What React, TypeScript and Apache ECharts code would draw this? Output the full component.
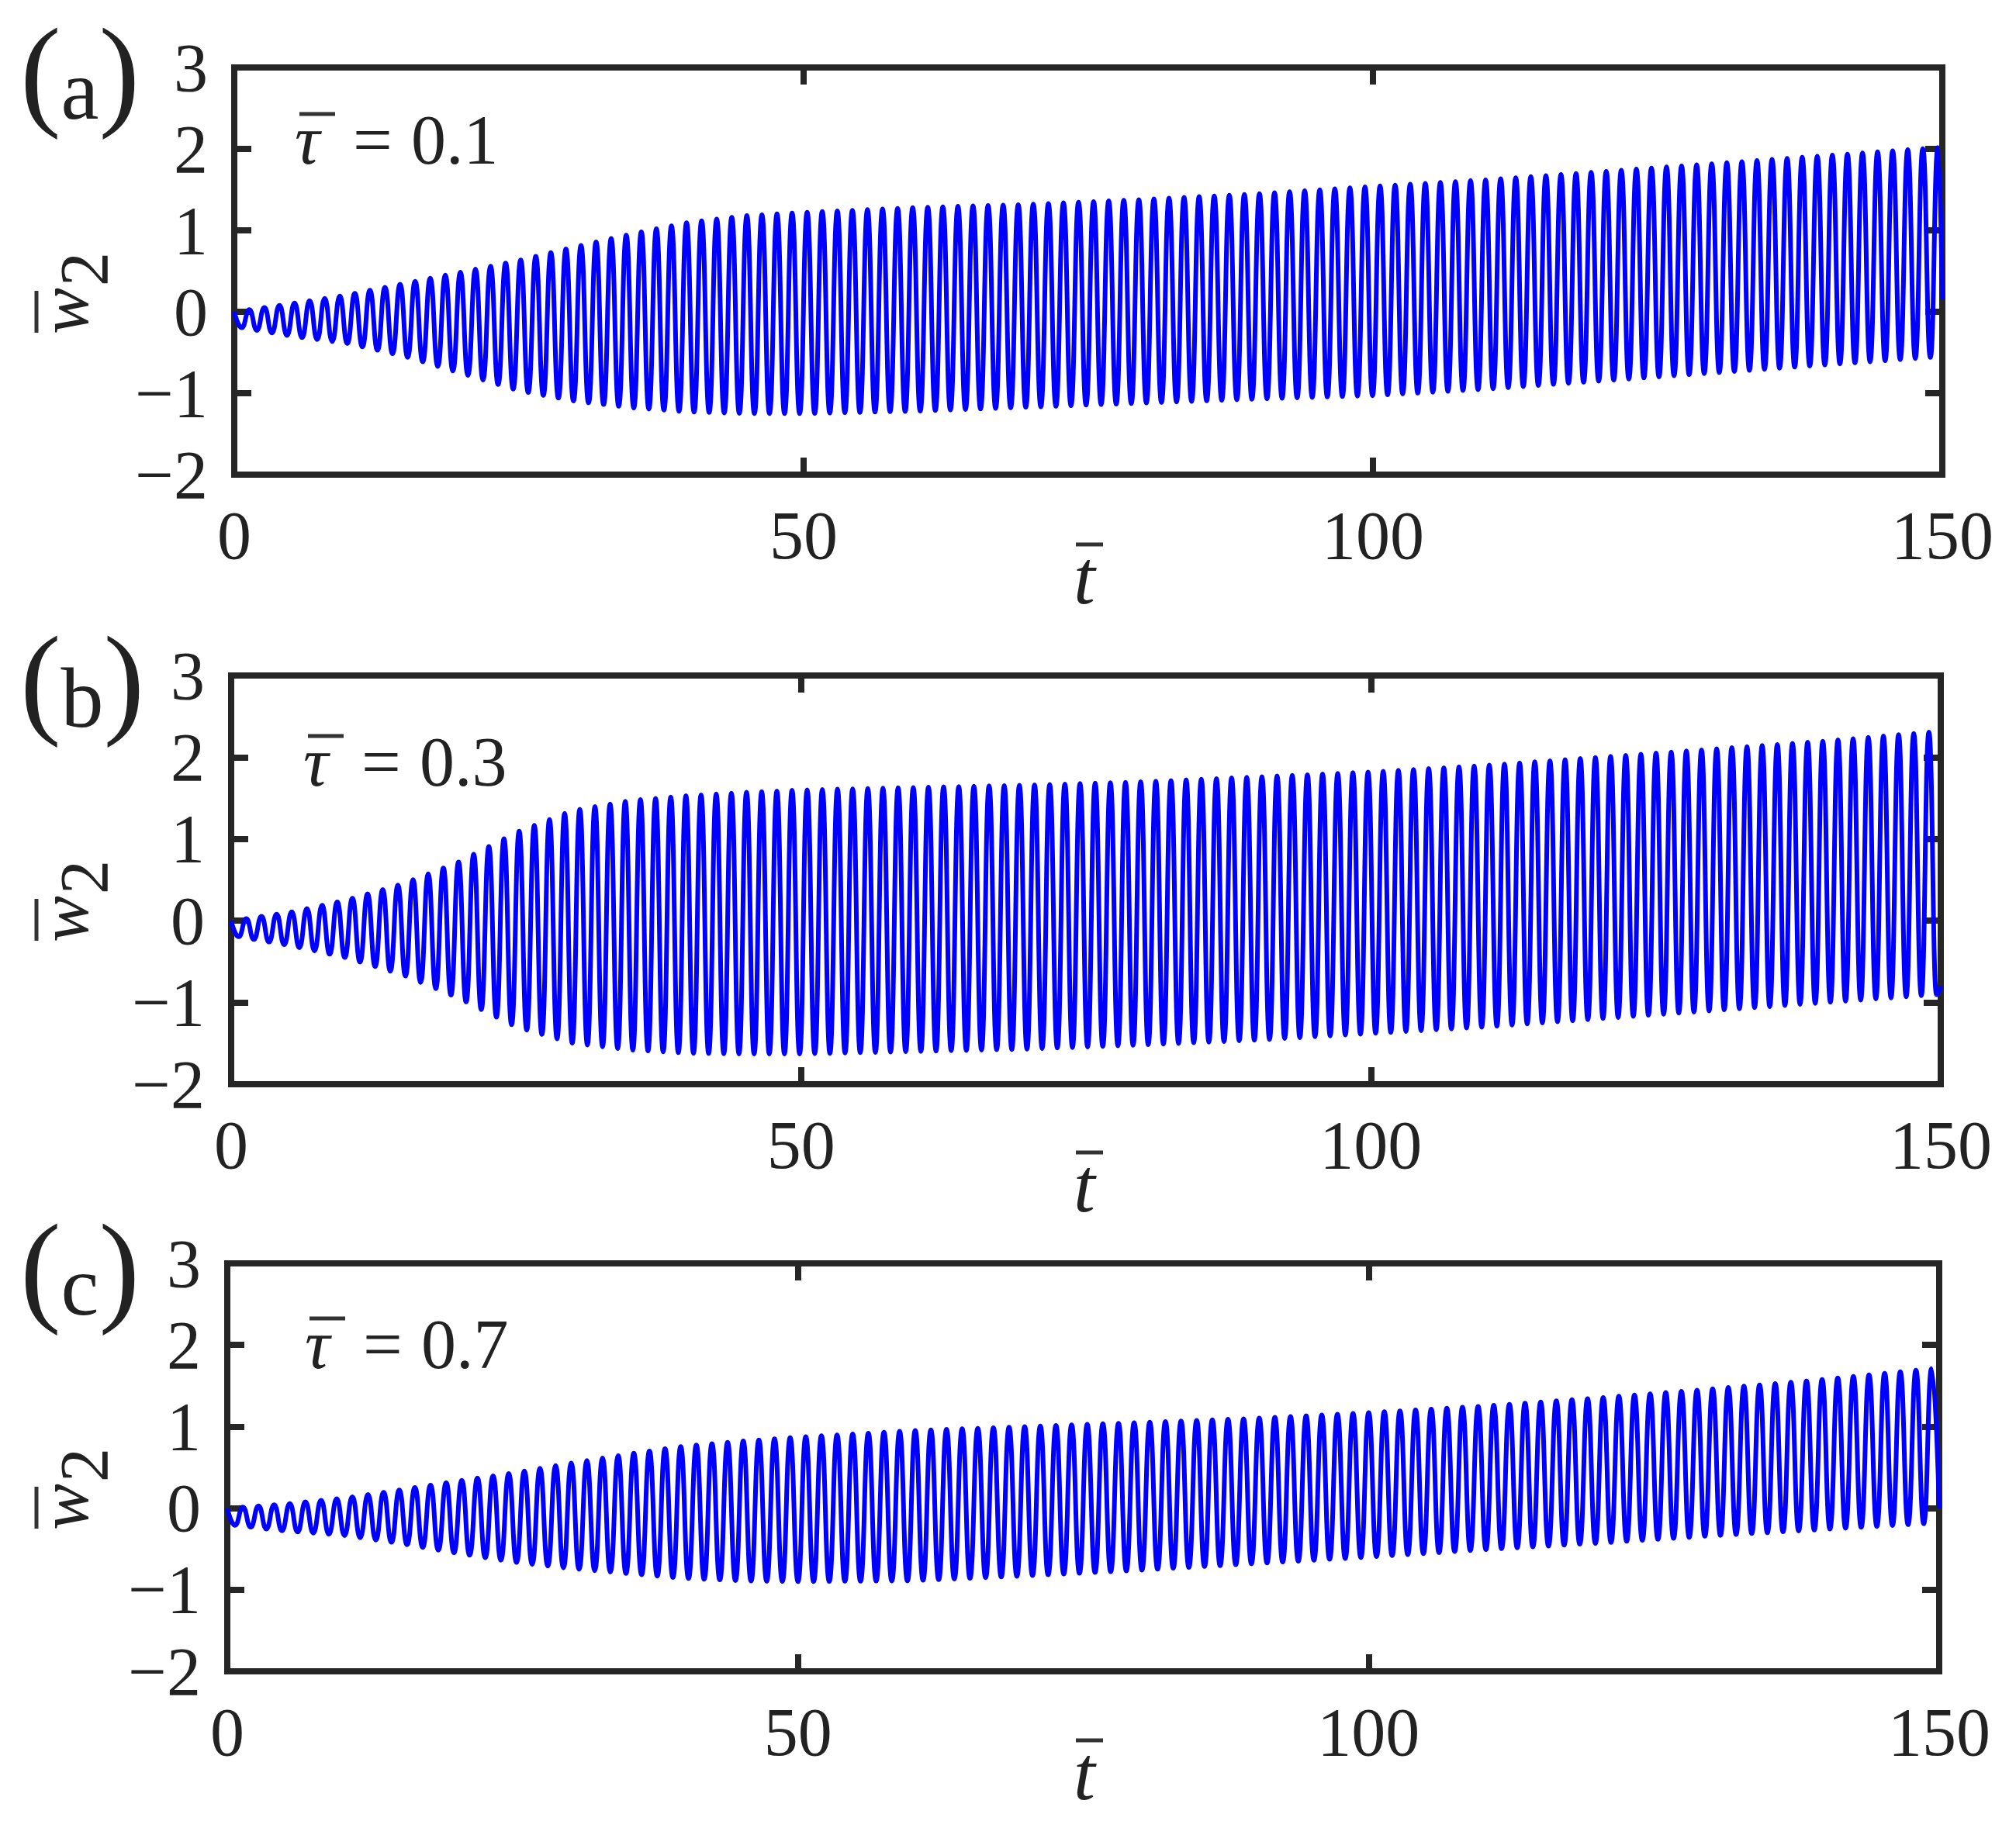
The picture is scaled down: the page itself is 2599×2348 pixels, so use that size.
import React, { useEffect, useRef } from "react";
import * as echarts from "echarts";

// ---- data ----
const X_TICKS = [0, 50, 100, 150];
const Y_TICKS = [-2, -1, 0, 1, 2, 3];
const PANEL_LETTERS = ["a", "b", "c"];
const TAU_VALUES = ["0.1", "0.3", "0.7"];

// envelope sample times
const T_ENV = [0, 5, 10, 15, 20, 25, 30, 35, 40, 45, 50, 60, 70, 80, 90, 100, 110, 120, 130, 140, 150];

// panel (a) tau = 0.1 : upper / lower envelope of w2
const UP_A = [0.0, 0.1, 0.21, 0.35, 0.49, 0.63, 0.8, 0.96, 1.1, 1.18, 1.22, 1.28, 1.32, 1.38, 1.45, 1.54, 1.62, 1.72, 1.82, 1.92, 2.02];
const LO_A = [-0.18, -0.3, -0.39, -0.55, -0.76, -0.97, -1.1, -1.18, -1.23, -1.25, -1.25, -1.22, -1.17, -1.12, -1.07, -1.03, -0.95, -0.85, -0.75, -0.65, -0.55];

// panel (b) tau = 0.3
const UP_B = [0.0, 0.1, 0.25, 0.45, 0.72, 1.08, 1.35, 1.47, 1.53, 1.57, 1.6, 1.63, 1.66, 1.7, 1.76, 1.82, 1.9, 2.0, 2.1, 2.2, 2.32];
const LO_B = [-0.18, -0.3, -0.45, -0.66, -0.95, -1.3, -1.5, -1.58, -1.62, -1.63, -1.63, -1.6, -1.57, -1.52, -1.46, -1.38, -1.3, -1.2, -1.1, -1.0, -0.9];

// panel (c) tau = 0.7
const UP_C = [0.0, 0.05, 0.12, 0.22, 0.33, 0.43, 0.55, 0.66, 0.76, 0.82, 0.87, 0.95, 1.0, 1.05, 1.1, 1.17, 1.25, 1.35, 1.46, 1.58, 1.72];
const LO_C = [-0.2, -0.28, -0.33, -0.43, -0.55, -0.66, -0.74, -0.8, -0.86, -0.89, -0.9, -0.89, -0.83, -0.76, -0.68, -0.6, -0.51, -0.43, -0.34, -0.26, -0.18];

// oscillation period read from peak spacing, and value at t = 150
const PERIODS = [1.324, 1.33, 1.37];
const END_VALUES = [0.15, -0.8, 0.0];

const UPPERS = [UP_A, UP_B, UP_C];
const LOWERS = [LO_A, LO_B, LO_C];

// ---- layout ----
const GRIDS = [
  { left: 302, top: 87, width: 2202, height: 525 },
  { left: 298, top: 871, width: 2204, height: 527 },
  { left: 293, top: 1629, width: 2207, height: 526 },
];
const DY = [0, 784, 1542];
const TAU_POS = [
  { x: 386, barY: 147, base: 210 },
  { x: 397, barY: 949, base: 1012 },
  { x: 399, barY: 1700, base: 1763 },
];

const FAMILY = "'Liberation Serif', 'Times New Roman', serif";
const INK = "#222222";
const FRAME = "#262626";

function envAt(arr: number[], t: number): number {
  for (let i = 0; i < T_ENV.length - 1; i++) {
    if (t <= T_ENV[i + 1]) {
      const f = (t - T_ENV[i]) / (T_ENV[i + 1] - T_ENV[i]);
      return arr[i] + f * (arr[i + 1] - arr[i]);
    }
  }
  return arr[arr.length - 1];
}

function extremaPoints(up: number[], lo: number[], period: number, endVal: number) {
  const pts: number[][] = [];
  const half = period / 2;
  for (let k = 0; ; k++) {
    const t = k * half;
    if (t > 149.97) break;
    pts.push([t, k % 2 === 0 ? envAt(up, t) : envAt(lo, t)]);
  }
  pts.push([150, endVal]);
  return pts;
}

function txt(text: string, x: number, y: number, size: number, italic = false, align = "left") {
  return {
    type: "text",
    x,
    y,
    silent: true,
    style: {
      text,
      fontFamily: FAMILY,
      fontSize: size,
      fontStyle: italic ? "italic" : "normal",
      fill: INK,
      align,
      verticalAlign: "middle",
      textAlign: align,
      textVerticalAlign: "middle",
    },
  };
}

function line(x1: number, y1: number, x2: number, y2: number, w = 5) {
  return {
    type: "line",
    silent: true,
    shape: { x1, y1, x2, y2 },
    style: { stroke: "#333333", lineWidth: w },
  };
}

export default function App() {
  const ref = useRef<HTMLDivElement>(null);

  useEffect(() => {
    if (!ref.current) return;
    const chart = echarts.init(ref.current, undefined, { renderer: "svg" });

    const grid: any[] = [];
    const xAxis: any[] = [];
    const yAxis: any[] = [];
    const series: any[] = [];
    const graphic: any[] = [];

    const tick = { show: true, inside: true, length: 22, lineStyle: { color: FRAME, width: 8 } };
    const label = {
      fontFamily: FAMILY,
      fontSize: 88,
      color: INK,
      margin: 34,
      formatter: (v: number) => String(v).replace("-", "\u2212"),
    };

    for (let i = 0; i < 3; i++) {
      const g = GRIDS[i];
      grid.push({
        ...g,
        show: true,
        borderWidth: 8,
        borderColor: FRAME,
        backgroundColor: "transparent",
        containLabel: false,
      });
      const xBase = {
        type: "value",
        gridIndex: i,
        min: X_TICKS[0],
        max: X_TICKS[X_TICKS.length - 1],
        interval: 50,
        axisLine: { show: false, onZero: false },
        splitLine: { show: false },
        axisTick: tick,
      };
      xAxis.push({ ...xBase, position: "bottom", axisLabel: label });
      xAxis.push({ ...xBase, position: "top", axisLabel: { show: false } });
      const yBase = {
        type: "value",
        gridIndex: i,
        min: Y_TICKS[0],
        max: Y_TICKS[Y_TICKS.length - 1],
        interval: 1,
        axisLine: { show: false, onZero: false },
        splitLine: { show: false },
        axisTick: tick,
      };
      yAxis.push({ ...yBase, position: "left", axisLabel: label });
      yAxis.push({ ...yBase, position: "right", axisLabel: { show: false } });

      series.push({
        type: "line",
        xAxisIndex: 2 * i,
        yAxisIndex: 2 * i,
        data: extremaPoints(UPPERS[i], LOWERS[i], PERIODS[i], END_VALUES[i]),
        showSymbol: false,
        smooth: 0.5,
        smoothMonotone: "x",
        clip: true,
        lineStyle: { color: "#0000ff", width: 6 },
        z: 3,
      });

      const dy = DY[i];
      // panel letter "(a)" with tall parentheses
      graphic.push({
        type: "text",
        x: 26,
        y: 92 + dy,
        silent: true,
        style: {
          text: `{p|(}{l|${PANEL_LETTERS[i]}}{p|)}`,
          fill: INK,
          align: "left",
          verticalAlign: "middle",
          textAlign: "left",
          textVerticalAlign: "middle",
          rich: {
            p: { fontFamily: FAMILY, fontSize: 158, lineHeight: 158, verticalAlign: "bottom", fill: INK },
            l: { fontFamily: FAMILY, fontSize: 110, lineHeight: 126, verticalAlign: "bottom", fill: INK },
          },
        },
      });

      // tau annotation
      const tp = TAU_POS[i];
      graphic.push(txt("\u03C4", tp.x - 6, tp.base - 30, 90, true));
      graphic.push(line(tp.x, tp.barY, tp.x + 46, tp.barY));
      graphic.push(txt("=", tp.x + 69, tp.base - 30, 90));
      graphic.push(txt(TAU_VALUES[i], tp.x + 144, tp.base - 30, 90));

      // y label w2 with overbar (rotated)
      graphic.push({
        type: "group",
        x: 112,
        y: 431 + dy,
        rotation: Math.PI / 2,
        silent: true,
        children: [
          txt("w", 0, -30, 90, true),
          line(2, -65, 56, -65),
          txt("2", 62, -4, 88),
        ],
      });

      // x label t with overbar
      graphic.push(txt("t", 1398, 744 + dy, 100, true, "center"));
      graphic.push(line(1387, 702 + dy, 1422, 702 + dy));
    }

    chart.setOption({
      animation: false,
      backgroundColor: "#ffffff",
      grid,
      xAxis,
      yAxis,
      series,
      graphic,
    });

    return () => chart.dispose();
  }, []);

  return (
    <div
      ref={ref}
      style={{ position: "absolute", left: 0, top: 0, width: 2599, height: 2348, background: "#fff" }}
    />
  );
}
